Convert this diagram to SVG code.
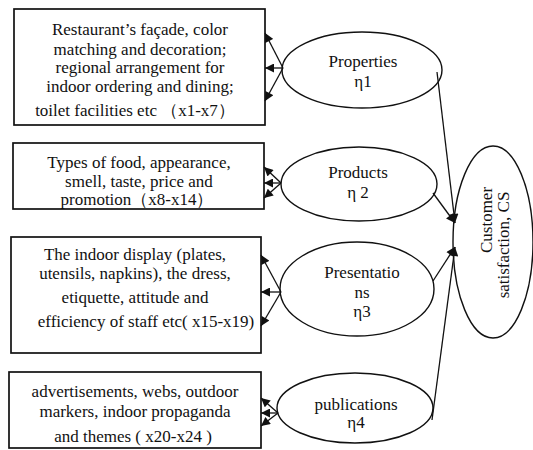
<svg xmlns="http://www.w3.org/2000/svg" width="533" height="450" viewBox="0 0 533 450">
<defs>
<style>
.box{fill:#fff;stroke:#111;stroke-width:1.7}
.ell{fill:#fff;stroke:#111;stroke-width:1.4}
.t{font-family:"Liberation Serif","Times New Roman",serif;font-size:17px;fill:#111;text-anchor:middle}
.c{stroke:#111;stroke-width:1.3;fill:none;marker-end:url(#ah)}
</style>
<marker id="ah" viewBox="0 0 10 10" refX="10" refY="5" markerWidth="10" markerHeight="9" markerUnits="userSpaceOnUse" orient="auto">
<path d="M0,0 L10,5 L0,10 z" fill="#111"/>
</marker>
</defs>
<rect width="533" height="450" fill="#fff"/>
<g id="box1">
<rect class="box" x="14" y="9" width="251" height="116"/>
<text class="t" x="140" y="35">Restaurant’s façade, color</text>
<text class="t" x="140" y="55">matching and decoration;</text>
<text class="t" x="140" y="73">regional arrangement for</text>
<text class="t" x="140" y="92">indoor ordering and dining;</text>
<text class="t" x="135" y="116">toilet facilities  etc （x1-x7）</text>
</g>
<g id="box2">
<rect class="box" x="13" y="143" width="251" height="66"/>
<text class="t" x="139" y="168">Types of food, appearance,</text>
<text class="t" x="139" y="187">smell, taste, price and</text>
<text class="t" x="137" y="205">promotion（x8-x14）</text>
</g>
<g id="box3">
<rect class="box" x="11" y="237" width="250" height="116"/>
<text class="t" x="135" y="260">The indoor display (plates,</text>
<text class="t" x="135" y="279">utensils, napkins), the dress,</text>
<text class="t" x="135" y="303">etiquette, attitude and</text>
<text class="t" x="146" y="327">efficiency of staff etc( x15-x19)</text>
</g>
<g id="box4">
<rect class="box" x="9" y="372" width="252" height="76"/>
<text class="t" x="135" y="397">advertisements, webs, outdoor</text>
<text class="t" x="135" y="417">markers, indoor propaganda</text>
<text class="t" x="133" y="442">and themes ( x20-x24 )</text>
</g>
<g id="properties">
<ellipse class="ell" cx="362" cy="70" rx="80" ry="38"/>
<text class="t" x="363" y="67">Properties</text>
<text class="t" x="363" y="87">η1</text>
</g>
<g id="products">
<ellipse class="ell" cx="359" cy="184" rx="78" ry="37"/>
<text class="t" x="358" y="178">Products</text>
<text class="t" x="358" y="198">η 2</text>
</g>
<g id="presentations">
<ellipse class="ell" cx="357" cy="289" rx="77" ry="47"/>
<text class="t" x="362" y="278">Presentatio</text>
<text class="t" x="362" y="298">ns</text>
<text class="t" x="362" y="317">η3</text>
</g>
<g id="publications">
<ellipse class="ell" cx="355" cy="408" rx="78" ry="35"/>
<text class="t" x="356" y="410">publications</text>
<text class="t" x="356" y="428">η4</text>
</g>
<g id="cs">
<ellipse class="ell" cx="493" cy="242" rx="40" ry="96"/>
<text class="t" transform="translate(492,220) rotate(-90)">Customer</text>
<text class="t" transform="translate(509,245) rotate(-90)">satisfaction, CS</text>
</g>
<g id="connectors">
<path class="c" d="M283,68 L265,33"/>
<path class="c" d="M283,68 L265,68"/>
<path class="c" d="M283,68 L265,101"/>
<path class="c" d="M281,183 L264,167"/>
<path class="c" d="M281,183 L264,183"/>
<path class="c" d="M281,183 L264,198"/>
<path class="c" d="M281,292 L261,255"/>
<path class="c" d="M281,292 L261,292"/>
<path class="c" d="M281,292 L261,326"/>
<path class="c" d="M278,413 L261,398"/>
<path class="c" d="M278,413 L261,413"/>
<path class="c" d="M278,413 L261,426"/>
<path class="c" d="M437,72 L455,223"/>
<path class="c" d="M433,193 L455,223"/>
<path class="c" d="M433,281 L455,247"/>
<path class="c" d="M432,420 L455,247"/>
</g>
</svg>
